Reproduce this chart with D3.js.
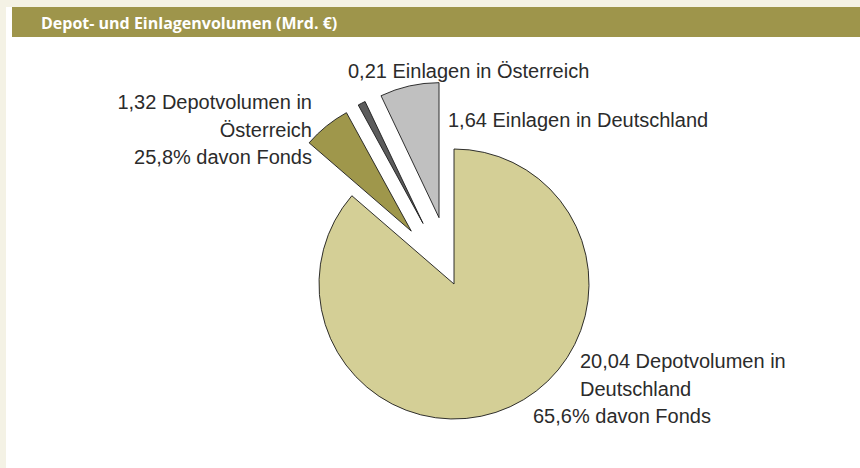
<!DOCTYPE html>
<html>
<head>
<meta charset="utf-8">
<script src="https://cdn.jsdelivr.net/npm/d3@7"></script>
<style>
  body { margin: 0; background: #f4f2e5; }
  svg { display: block; }
  text { font-family: "Liberation Sans", Arial, sans-serif; fill: #2b2b2b; }
</style>
</head>
<body>
<div id="chart"></div>
<script>
// data (Mrd. €), order = clockwise from 12 o'clock
var categories = ["Depotvolumen in Deutschland", "Depotvolumen in Österreich", "Einlagen in Österreich", "Einlagen in Deutschland"];
var values = [20.04, 1.32, 0.21, 1.64];
var labelLines = [
  ["20,04 Depotvolumen in", "Deutschland", "65,6% davon Fonds"],
  ["1,32 Depotvolumen in", "Österreich", "25,8% davon Fonds"],
  ["0,21 Einlagen in Österreich"],
  ["1,64 Einlagen in Deutschland"]
];
var colors = ["#d4cf96", "#9f974b", "#5c5c5c", "#c0c0c0"];

var W = 860, H = 468;
var cx = 454, cy = 284, r = 135, explode = 68;

var svg = d3.select("#chart").append("svg").attr("width", W).attr("height", H);

svg.append("rect").attr("x", 0).attr("y", 0).attr("width", W).attr("height", H).attr("fill", "#f4f2e5");
svg.append("rect").attr("x", 6).attr("y", 7).attr("width", W - 6).attr("height", H - 7).attr("fill", "#ffffff");
svg.append("rect").attr("x", 12).attr("y", 7).attr("width", W - 12).attr("height", 30).attr("fill", "#9e954b");
svg.append("text").attr("x", 41).attr("y", 29)
  .text("Depot- und Einlagenvolumen (Mrd. €)")
  .style("fill", "#ffffff").style("font-family", "'Open Sans', sans-serif")
  .attr("font-weight", "bold").attr("font-size", "16px");

var pie = d3.pie().sort(null).value(function(d) { return d; });
var arcs = pie(values);
var arc = d3.arc().innerRadius(0).outerRadius(r);

var g = svg.append("g").attr("transform", "translate(" + cx + "," + cy + ")");
g.selectAll("path")
  .data(arcs)
  .enter()
  .append("path")
    .attr("d", arc)
    .attr("fill", function(d, i) { return colors[i]; })
    .attr("stroke", "#1a1a1a")
    .attr("stroke-width", 0.9)
    .attr("stroke-linejoin", "miter")
    .attr("transform", function(d, i) {
      if (i == 0) return null;
      var a = (d.startAngle + d.endAngle) / 2;
      return "translate(" + (Math.sin(a) * explode) + "," + (-Math.cos(a) * explode) + ")";
    });

// label placement (text only)
var labelPos = [
  {x: 580, y: 368, anchor: "start", lines: [0, 0, -47]},
  {x: 312, y: 109, anchor: "end", lines: [0, 0, 0]},
  {x: 348, y: 78, anchor: "start", lines: [0]},
  {x: 448, y: 127, anchor: "start", lines: [0]}
];
var lineH = 27.5;
labelLines.forEach(function(lines, i) {
  var p = labelPos[i];
  lines.forEach(function(t, j) {
    svg.append("text")
      .attr("x", p.x + p.lines[j])
      .attr("y", p.y + j * lineH)
      .attr("text-anchor", p.anchor)
      .attr("font-size", "20px")
      .text(t);
  });
});
</script>
</body>
</html>
